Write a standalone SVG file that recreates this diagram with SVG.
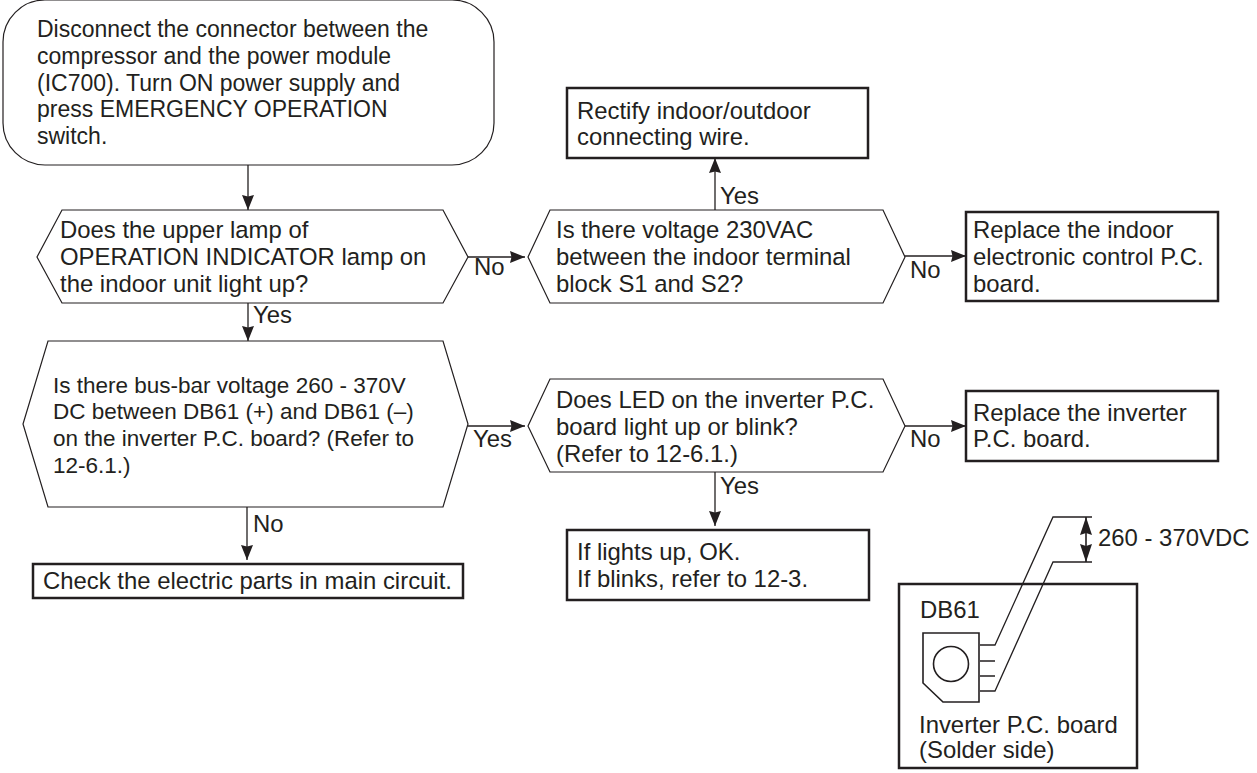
<svg xmlns="http://www.w3.org/2000/svg" width="1257" height="773" viewBox="0 0 1257 773">
<defs>
<marker id="a" markerUnits="userSpaceOnUse" markerWidth="15" markerHeight="12" refX="15" refY="6" orient="auto"><path d="M0 0L15 6L0 12L1.5 6Z" fill="#231f20"/></marker>
<marker id="d" markerUnits="userSpaceOnUse" markerWidth="18" markerHeight="12" refX="18" refY="6" orient="auto-start-reverse"><path d="M0 0L18 6L0 12L2 6Z" fill="#231f20"/></marker>
</defs>
<style>
text{font-family:"Liberation Sans",Arial,sans-serif;font-size:23.9px;fill:#231f20}
.s{font-size:22.5px}
.t{font-size:23px}
.n{fill:#fff;stroke:#231f20;stroke-width:1.2}
.b{fill:#fff;stroke:#231f20;stroke-width:2.5}
.c{fill:none;stroke:#231f20;stroke-width:1.3}
</style>
<rect width="1257" height="773" fill="#fff"/>
<g id="n1"><rect class="n" x="3" y="0" width="491" height="165" rx="42"/><text class="t" x="37" y="37">Disconnect the connector between the</text><text class="t" x="37" y="64">compressor and the power module</text><text class="t" x="37" y="91">(IC700). Turn ON power supply and</text><text class="t" x="37" y="117">press EMERGENCY OPERATION</text><text class="t" x="37" y="144">switch.</text></g>
<g id="n2"><path class="n" d="M62 210H443L468 257L443 303H62L37 257Z"/><text x="60" y="238">Does the upper lamp of</text><text x="60" y="265">OPERATION INDICATOR lamp on</text><text x="60" y="292">the indoor unit light up?</text></g>
<g id="n3"><path class="n" d="M550 210H883L905 257L883 303H550L528 257Z"/><text x="556" y="238">Is there voltage 230VAC</text><text x="556" y="265">between the indoor terminal</text><text x="556" y="292">block S1 and S2?</text></g>
<g id="n4"><rect class="b" x="567" y="88" width="301" height="70"/><text x="577" y="119">Rectify indoor/outdoor</text><text x="577" y="145">connecting wire.</text></g>
<g id="n5"><rect class="b" x="966" y="212" width="252" height="89"/><text x="973" y="238">Replace the indoor</text><text x="973" y="265">electronic control P.C.</text><text x="973" y="292">board.</text></g>
<g id="n6"><path class="n" d="M48 341H443L468 424L443 507H48L23 424Z"/><text class="s" x="53" y="393">Is there bus-bar voltage 260 - 370V</text><text class="s" x="53" y="419">DC between DB61 (+) and DB61 (–)</text><text class="s" x="53" y="446">on the inverter P.C. board? (Refer to</text><text class="s" x="53" y="473">12-6.1.)</text></g>
<g id="n7"><path class="n" d="M550 379H883L905 426L883 472H550L528 426Z"/><text x="556" y="408">Does LED on the inverter P.C.</text><text x="556" y="435">board light up or blink?</text><text x="556" y="462">(Refer to 12-6.1.)</text></g>
<g id="n8"><rect class="b" x="966" y="391" width="252" height="70"/><text x="973" y="421">Replace the inverter</text><text x="973" y="447">P.C. board.</text></g>
<g id="n9"><rect class="b" x="33" y="564" width="430" height="34"/><text x="43" y="589">Check the electric parts in main circuit.</text></g>
<g id="n10"><rect class="b" x="567" y="530" width="302" height="70"/><text x="577" y="560">If lights up, OK.</text><text x="577" y="587">If blinks, refer to 12-3.</text></g>
<g id="connectors">
<path class="c" marker-end="url(#a)" d="M248 165V210"/>
<path class="c" marker-end="url(#a)" d="M248 303V341"/>
<path class="c" marker-end="url(#a)" d="M247 507V560"/>
<path class="c" marker-end="url(#a)" d="M468 257H525"/>
<path class="c" marker-end="url(#a)" d="M468 426H525"/>
<path class="c" marker-end="url(#a)" d="M715 210V158"/>
<path class="c" marker-end="url(#a)" d="M905 256H966"/>
<path class="c" marker-end="url(#a)" d="M905 426H966"/>
<path class="c" marker-end="url(#a)" d="M715 472V526"/>
</g>
<g id="labels"><text x="474" y="275">No</text><text x="473" y="447">Yes</text><text x="253" y="323">Yes</text><text x="253" y="532">No</text><text x="720" y="204">Yes</text><text x="910" y="278">No</text><text x="910" y="447">No</text><text x="720" y="494">Yes</text></g>
<g id="pcb"><rect class="b" x="899" y="584" width="238" height="184"/>
<path class="c" d="M1092 517H1053L995 645H980M1092 562H1053L995 691H980M980 661H995M980 676H995"/>
<path class="c" style="stroke-width:1.6" marker-start="url(#d)" marker-end="url(#d)" d="M1086 517V562"/>
<path class="n" style="stroke-width:1.6;fill:none" d="M923 633H979V702H943L923 683Z"/><circle class="n" style="stroke-width:1.6" cx="951" cy="664" r="17.5"/>
<text x="920" y="618">DB61</text><text x="919" y="733">Inverter P.C. board</text><text x="919" y="758">(Solder side)</text><text x="1098" y="546">260 - 370VDC</text></g>
</svg>
